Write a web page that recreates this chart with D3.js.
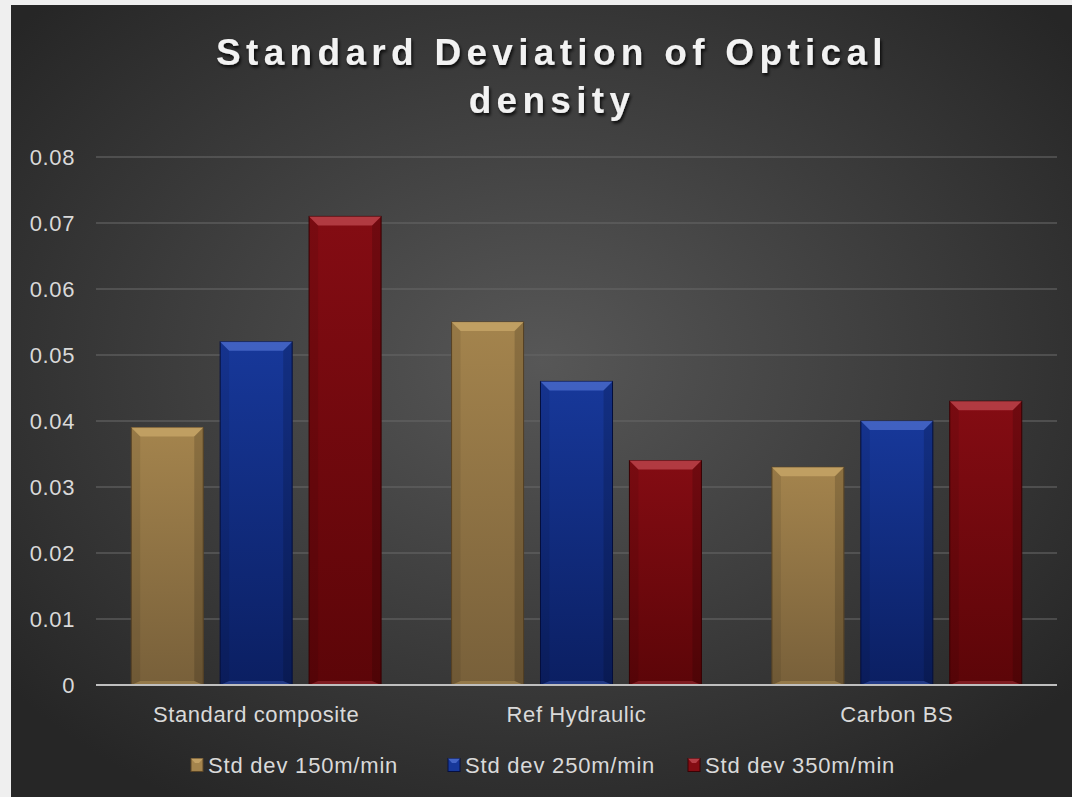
<!DOCTYPE html>
<html><head><meta charset="utf-8">
<script src="https://cdn.jsdelivr.net/npm/d3@7/dist/d3.min.js"></script>
<style>html,body{margin:0;padding:0;background:#efefef;}svg{display:block;}</style>
</head><body>
<script>
const categories = ["Standard composite", "Ref Hydraulic", "Carbon BS"];
const seriesNames = ["Std dev 150m/min", "Std dev 250m/min", "Std dev 350m/min"];
const s150 = [0.039, 0.055, 0.033];
const s250 = [0.052, 0.046, 0.040];
const s350 = [0.071, 0.034, 0.043];
const yTicks = [0, 0.01, 0.02, 0.03, 0.04, 0.05, 0.06, 0.07, 0.08];
const title = ["Standard Deviation of Optical", "density"];

const series = [s150, s250, s350];
const palette = [
  {top:"#a4844d", bot:"#78603a", hi:"#c9a86a", dark:"#5a4526"},
  {top:"#17389a", bot:"#0b1f62", hi:"#4f6fcf", dark:"#061040"},
  {top:"#840c13", bot:"#5c0508", hi:"#c04a52", dark:"#3a0204"}
];

const W = 1072, H = 797;
const svg = d3.select("body").append("svg").attr("width", W).attr("height", H);
const defs = svg.append("defs");
const bg = defs.append("radialGradient").attr("id","bg").attr("cx","50%").attr("cy","45%").attr("r","65%");
bg.append("stop").attr("offset","0%").attr("stop-color","#575757");
bg.append("stop").attr("offset","100%").attr("stop-color","#262626");
palette.forEach((p,i)=>{
  const g = defs.append("linearGradient").attr("id","bar"+i).attr("x1",0).attr("y1",0).attr("x2",0).attr("y2",1);
  g.append("stop").attr("offset","0%").attr("stop-color",p.top);
  g.append("stop").attr("offset","100%").attr("stop-color",p.bot);
});
const f = defs.append("filter").attr("id","ts").attr("x","-10%").attr("y","-20%").attr("width","120%").attr("height","150%");
f.append("feDropShadow").attr("dx",1.5).attr("dy",2.5).attr("stdDeviation",1.5).attr("flood-color","#000").attr("flood-opacity",0.8);

svg.append("rect").attr("x",11).attr("y",5).attr("width",W-11).attr("height",H-5).attr("fill","url(#bg)");

const x0 = d3.scaleBand().domain(categories).range([96,1057]).paddingInner(0.22).paddingOuter(0.11);
const x1 = d3.scaleBand().domain(d3.range(3)).range([0,x0.bandwidth()]).paddingInner(0.19);
const y = d3.scaleLinear().domain([0,0.08]).range([685,157]);

const FONT = "Liberation Sans, Arial, sans-serif";

// grid
svg.append("g").selectAll("line").data(yTicks.filter(t=>t>0)).join("line")
  .attr("x1",96).attr("x2",1057).attr("y1",d=>y(d)).attr("y2",d=>y(d))
  .attr("stroke","#666").attr("stroke-opacity",0.75).attr("stroke-width",1.3);

// y axis labels
const yAxis = d3.axisLeft(y).tickValues(yTicks).tickSize(0).tickPadding(0).tickFormat(d=>d===0?"0":d3.format(".2f")(d));
const ya = svg.append("g").attr("transform","translate(75,0)").call(yAxis);
ya.select(".domain").remove();
ya.selectAll("text").attr("fill","#d9d9d9").attr("font-family",FONT).attr("font-size",22).attr("letter-spacing","0.6px").attr("dy","0.35em");

// bars
const groups = svg.append("g").selectAll("g").data(categories).join("g")
  .attr("transform",d=>`translate(${x0(d)},0)`);
groups.each(function(cat, ci){
  const g = d3.select(this);
  series.forEach((s, si)=>{
    const bx = x1(si), bw = x1.bandwidth(), by = y(s[ci]), bh = y(0)-y(s[ci]);
    const p = palette[si];
    const bev = 9;
    g.append("rect").attr("x",bx).attr("y",by).attr("width",bw).attr("height",bh)
      .attr("fill",`url(#bar${si})`).attr("stroke",p.dark).attr("stroke-width",1);
    g.append("polygon").attr("points",[[bx,by],[bx+bw,by],[bx+bw-bev,by+bev],[bx+bev,by+bev]].map(q=>q.join(",")).join(" "))
      .attr("fill",p.hi).attr("opacity",0.75);
    g.append("polygon").attr("points",[[bx,by],[bx+bev,by+bev],[bx+bev,by+bh-4],[bx,by+bh]].map(q=>q.join(",")).join(" "))
      .attr("fill","#000").attr("opacity",0.08);
    g.append("polygon").attr("points",[[bx+bw,by],[bx+bw-bev,by+bev],[bx+bw-bev,by+bh-4],[bx+bw,by+bh]].map(q=>q.join(",")).join(" "))
      .attr("fill","#000").attr("opacity",0.15);
    g.append("polygon").attr("points",[[bx,by+bh],[bx+bev,by+bh-4],[bx+bw-bev,by+bh-4],[bx+bw,by+bh]].map(q=>q.join(",")).join(" "))
      .attr("fill",p.hi).attr("opacity",0.35);
  });
});

// zero axis line
svg.append("line").attr("x1",96).attr("x2",1057).attr("y1",y(0)).attr("y2",y(0))
  .attr("stroke","#bfbfbf").attr("stroke-width",2);

// x axis labels
const xAxis = d3.axisBottom(x0).tickSize(0).tickPadding(0);
const xa = svg.append("g").attr("transform",`translate(0,${y(0)+29})`).call(xAxis);
xa.select(".domain").remove();
xa.selectAll("text").attr("fill","#d9d9d9").attr("font-family",FONT).attr("font-size",22).attr("letter-spacing","0.6px").attr("dy","0.35em");

// title
svg.append("text").attr("text-anchor","middle").attr("fill","#f2f2f2")
  .attr("font-family",FONT).attr("font-weight","bold").attr("font-size",37)
  .attr("letter-spacing","5.3px").attr("filter","url(#ts)")
  .selectAll("tspan").data(title).join("tspan").attr("x",552).attr("y",(d,i)=>65+i*48).text(d=>d);

// legend
const legX = [191, 448, 688];
const lg = svg.append("g").selectAll("g").data(seriesNames).join("g").attr("transform",(d,i)=>`translate(${legX[i]},765)`);
lg.append("rect").attr("x",0).attr("y",-6.5).attr("width",12).attr("height",13).attr("fill",(d,i)=>palette[i].top).attr("stroke",(d,i)=>palette[i].dark);
lg.append("polygon").attr("points","0,-6.5 12,-6.5 8,-2 4,-2").attr("fill",(d,i)=>palette[i].hi).attr("opacity",0.8);
lg.append("text").attr("x",17).attr("y",0).attr("dy","0.35em").attr("fill","#d9d9d9")
  .attr("font-family",FONT).attr("font-size",22).attr("letter-spacing","0.8px").text(d=>d);
</script>
</body></html>
